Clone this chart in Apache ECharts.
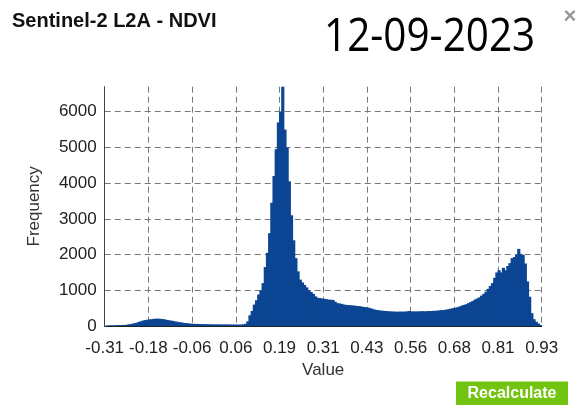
<!DOCTYPE html>
<html>
<head>
<meta charset="utf-8">
<script src="https://cdn.jsdelivr.net/npm/echarts@6/dist/echarts.min.js"></script>
<style>
  html, body { margin: 0; padding: 0; background: #fff; }
  #chart { width: 582px; height: 410px; }
</style>
</head>
<body>
<div id="chart"></div>
<script>
// histogram bins: 200 bins from -0.308 to 0.929
const binCount = 200;
const counts = [
  10, 15, 20, 20, 20, 25, 25, 25, 30, 30,
  40, 50, 60, 75, 90, 110, 130, 150, 165, 175,
  185, 190, 200, 205, 205, 200, 195, 185, 170, 160,
  150, 140, 125, 115, 105, 95, 85, 80, 72, 65,
  62, 60, 58, 55, 52, 50, 50, 48, 47, 46,
  45, 44, 45, 43, 42, 44, 42, 40, 42, 40,
  40, 38, 40, 45, 60, 130, 300, 420, 600, 720,
  880, 1000, 1200, 1650, 2050, 2600, 3450, 4200, 4950, 5700,
  6000, 6700, 5500, 5000, 4050, 3100, 2400, 1900, 1530, 1300,
  1220, 1150, 1080, 1000, 950, 900, 830, 790, 780, 770,
  760, 750, 740, 735, 730, 680, 640, 630, 620, 600,
  590, 585, 580, 575, 570, 560, 555, 545, 535, 525,
  515, 500, 480, 460, 450, 440, 430, 425, 420, 415,
  410, 405, 405, 400, 400, 405, 400, 405, 410, 420,
  405, 410, 405, 410, 410, 415, 410, 415, 420, 420,
  425, 425, 430, 440, 445, 450, 460, 470, 485, 500,
  510, 525, 545, 570, 590, 610, 640, 670, 700, 740,
  770, 800, 850, 900, 960, 1040, 1120, 1200, 1350, 1500,
  1560, 1500, 1630, 1560, 1680, 1760, 1900, 1930, 1990, 2160,
  2020, 1990, 1750, 1250, 820, 360, 190, 120, 70, 30
];
const xTickLabels = ['-0.31', '-0.18', '-0.06', '0.06', '0.19', '0.31', '0.43', '0.56', '0.68', '0.81', '0.93'];
const yMax = 6700;

// one item per bin: [binStart, count]
let bins = [];
for (let i = 0; i < counts.length; i++) {
  bins.push([i, counts[i]]);
}

const chart = echarts.init(document.getElementById('chart'));
const labelFont = 'Liberation Sans, Arial, sans-serif';

function renderBin(params, api) {
  let start = api.value(0);
  let top = api.coord([start, api.value(1)]);
  let end = api.coord([start + 1, 0]);
  // overlap neighbours a bit so no seams show
  return {
    type: 'rect',
    shape: { x: top[0] - 0.5, y: top[1], width: end[0] - top[0] + 1, height: end[1] - top[1] },
    style: { fill: '#0b4593', stroke: null }
  };
}

let option = {
  animation: false,
  title: {
    text: 'Sentinel-2 L2A - NDVI',
    left: 12,
    top: 11,
    padding: 0,
    textStyle: { fontFamily: labelFont, fontSize: 20, fontWeight: 'bold', color: '#111' }
  },
  grid: { left: 104.7, right: 40.3, top: 86.7, bottom: 84 },
  xAxis: {
    type: 'value',
    min: 0,
    max: binCount,
    interval: 20,
    name: 'Value',
    nameLocation: 'middle',
    nameGap: 31,
    nameTextStyle: { fontFamily: labelFont, fontSize: 17, color: '#333' },
    axisLine: { show: true, lineStyle: { color: '#222', width: 1 } },
    axisTick: { show: false },
    axisLabel: {
      margin: 14,
      fontFamily: labelFont,
      fontSize: 17,
      color: '#222',
      formatter: function (v) { return xTickLabels[Math.round(v / 20)]; }
    },
    splitLine: {
      show: true,
      showMinLine: false,
      showMaxLine: true,
      lineStyle: { color: '#777', type: [6, 4], width: 1 }
    }
  },
  yAxis: {
    type: 'value',
    min: 0,
    max: yMax,
    interval: 1000,
    name: 'Frequency',
    nameLocation: 'middle',
    nameGap: 62,
    nameTextStyle: { fontFamily: labelFont, fontSize: 17, color: '#333' },
    axisLine: { show: true, lineStyle: { color: '#444', width: 1 } },
    axisTick: { show: false },
    axisLabel: {
      margin: 8,
      fontFamily: labelFont,
      fontSize: 17,
      color: '#222',
      showMaxLabel: false,
      formatter: function (v) { return String(v); }
    },
    splitLine: {
      show: true,
      showMinLine: false,
      showMaxLine: false,
      lineStyle: { color: '#777', type: [6, 4], width: 1 }
    }
  },
  series: [
    {
      type: 'custom',
      renderItem: renderBin,
      data: bins,
      encode: { x: 0, y: 1 },
      z: 2
    }
  ],
  graphic: [
    {
      type: 'text',
      x: 324,
      y: 38,
      scaleX: 0.88,
      style: {
        text: '12-09-2023',
        font: '46px "Open Sans", sans-serif',
        fill: '#000',
        align: 'left',
        verticalAlign: 'middle'
      }
    },
    {
      type: 'text',
      x: 570,
      y: 17,
      style: {
        text: '×',
        font: 'bold 22px "Liberation Sans", Arial, sans-serif',
        fill: '#999',
        align: 'center',
        verticalAlign: 'middle'
      }
    },
    {
      type: 'rect',
      shape: { x: 456, y: 381.5, width: 112, height: 23.5 },
      style: { fill: '#73c410' }
    },
    {
      type: 'text',
      x: 512,
      y: 393.5,
      style: {
        text: 'Recalculate',
        font: 'bold 16px "Liberation Sans", Arial, sans-serif',
        fill: '#fff',
        align: 'center',
        verticalAlign: 'middle'
      }
    }
  ]
};

chart.setOption(option);
</script>
</body>
</html>
